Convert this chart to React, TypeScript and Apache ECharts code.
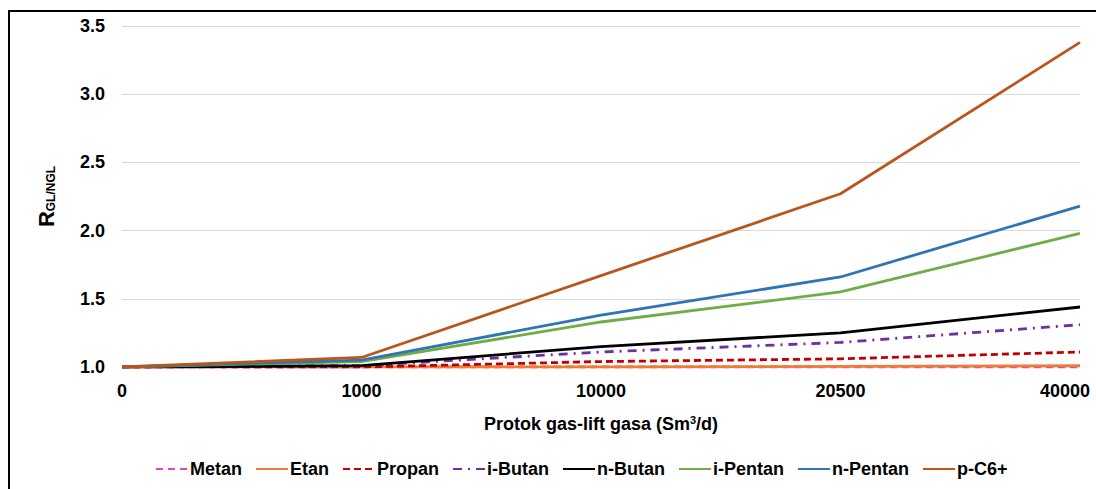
import React, { useEffect, useRef } from "react";
import * as echarts from "echarts";

const categories = ["0", "1000", "10000", "20500", "40000"];
const metan = [1.0, 1.0, 1.0, 1.0, 1.0];
const etan = [1.0, 1.0, 1.0, 1.005, 1.01];
const propan = [1.0, 1.0, 1.04, 1.06, 1.11];
const iButan = [1.0, 1.01, 1.11, 1.18, 1.31];
const nButan = [1.0, 1.01, 1.15, 1.25, 1.44];
const iPentan = [1.0, 1.04, 1.33, 1.55, 1.98];
const nPentan = [1.0, 1.05, 1.38, 1.66, 2.18];
const pC6 = [1.0, 1.07, 1.67, 2.27, 3.38];

const FONT = "Liberation Sans, Arial, sans-serif";

export default function App() {
  const ref = useRef<HTMLDivElement>(null);
  useEffect(() => {
    document.documentElement.style.overflow = "hidden";
    document.body.style.overflow = "hidden";
    document.body.style.margin = "0";
    if (!ref.current) return;
    const chart = echarts.init(ref.current, undefined, { renderer: "svg" });
    const mk = (name: string, data: number[], color: string, type: any, width = 2.8) => ({
      name,
      type: "line",
      data,
      symbol: "none",
      lineStyle: { color, type, width },
      itemStyle: { color },
    });
    chart.setOption({
      animation: false,
      textStyle: { fontFamily: FONT },
      graphic: [
        {
          type: "polyline",
          shape: { points: [[9, 489], [9, 11], [1096, 11]] },
          style: { fill: "none", stroke: "#000", lineWidth: 2 },
          silent: true,
        },
      ],
      grid: { left: 122, right: 16, top: 26, bottom: 122 },
      xAxis: {
        type: "category",
        data: categories,
        boundaryGap: false,
        axisLine: { show: true, lineStyle: { color: "#d9d9d9" } },
        axisTick: { show: false },
        axisLabel: {
          color: "#000",
          fontWeight: "bold",
          fontSize: 18,
          margin: 15,
          fontFamily: FONT,
          formatter: (v: string, i: number) => (i === categories.length - 1 ? "{last|" + v + "}" : v),
          rich: {
            last: { fontSize: 18, fontWeight: "bold", color: "#000", fontFamily: FONT, padding: [0, 30, 0, 0] },
          },
        },
        name: "Protok gas-lift gasa (Sm{sup|3}/d)",
        nameLocation: "middle",
        nameGap: 47,
        nameTextStyle: {
          color: "#000",
          fontWeight: "bold",
          fontSize: 18,
          fontFamily: FONT,
          rich: { sup: { fontSize: 11, fontWeight: "bold", color: "#000", fontFamily: FONT, verticalAlign: "top", padding: [0, 0, 9, 0] } },
        },
      },
      yAxis: {
        type: "value",
        min: 1.0,
        max: 3.5,
        interval: 0.5,
        axisLine: { show: false },
        axisTick: { show: false },
        splitLine: { lineStyle: { color: "#d9d9d9", width: 1 } },
        axisLabel: {
          color: "#000",
          fontWeight: "bold",
          fontSize: 18,
          margin: 17,
          fontFamily: FONT,
          formatter: (v: number) => v.toFixed(1),
        },
        name: "{a|R}{b|GL/NGL}",
        nameLocation: "middle",
        nameGap: 65,
        nameTextStyle: {
          rich: {
            a: { fontSize: 22, fontWeight: "bold", color: "#000", fontFamily: FONT },
            b: { fontSize: 12, fontWeight: "bold", color: "#000", fontFamily: FONT, padding: [10, 0, 0, 0] },
          },
        },
      },
      legend: {
        top: 455,
        left: 150,
        itemWidth: 32,
        itemHeight: 12,
        itemGap: 13,
        itemStyle: { opacity: 0 },
        textStyle: { color: "#000", fontWeight: "bold", fontSize: 18, fontFamily: FONT, padding: [0, 0, 0, -3] },
        data: ["Metan", "Etan", "Propan", "i-Butan", "n-Butan", "i-Pentan", "n-Pentan", "p-C6+"],
      },
      series: [
        mk("Metan", metan, "#e83fc4", [7, 5]),
        mk("Etan", etan, "#ed7d31", "solid"),
        mk("Propan", propan, "#c00000", [7, 4]),
        mk("i-Butan", iButan, "#7030a0", [9, 6, 2, 6]),
        mk("n-Butan", nButan, "#000000", "solid"),
        mk("i-Pentan", iPentan, "#70ad47", "solid"),
        mk("n-Pentan", nPentan, "#2e75b6", "solid"),
        mk("p-C6+", pC6, "#b8561b", "solid"),
      ],
    });
    return () => chart.dispose();
  }, []);
  return <div ref={ref} style={{ width: 1096, height: 489 }} />;
}
